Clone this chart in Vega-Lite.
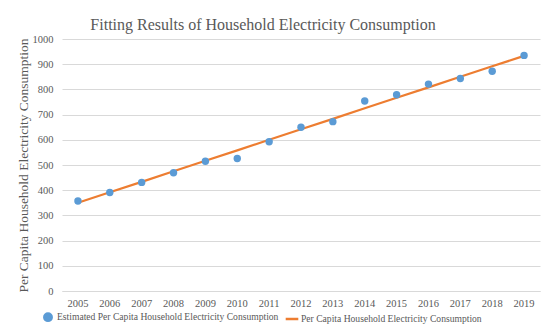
{
  "$schema": "https://vega.github.io/schema/vega-lite/v6.json",
  "width": 478,
  "height": 252,
  "autosize": {"type": "none"},
  "padding": {"left": 62, "top": 39, "right": 10, "bottom": 44},
  "background": "white",
  "title": {
    "text": "Fitting Results of Household Electricity Consumption",
    "font": "Liberation Serif",
    "fontSize": 16,
    "fontWeight": "normal",
    "color": "#595959",
    "anchor": "middle",
    "baseline": "alphabetic",
    "offset": -12,
    "dx": -38
  },
  "data": {
    "values": [
      {"year": "2005", "series": "Estimated Per Capita Household Electricity Consumption", "value": 357},
      {"year": "2006", "series": "Estimated Per Capita Household Electricity Consumption", "value": 391},
      {"year": "2007", "series": "Estimated Per Capita Household Electricity Consumption", "value": 431},
      {"year": "2008", "series": "Estimated Per Capita Household Electricity Consumption", "value": 469},
      {"year": "2009", "series": "Estimated Per Capita Household Electricity Consumption", "value": 515},
      {"year": "2010", "series": "Estimated Per Capita Household Electricity Consumption", "value": 526},
      {"year": "2011", "series": "Estimated Per Capita Household Electricity Consumption", "value": 592},
      {"year": "2012", "series": "Estimated Per Capita Household Electricity Consumption", "value": 650},
      {"year": "2013", "series": "Estimated Per Capita Household Electricity Consumption", "value": 672},
      {"year": "2014", "series": "Estimated Per Capita Household Electricity Consumption", "value": 754},
      {"year": "2015", "series": "Estimated Per Capita Household Electricity Consumption", "value": 779},
      {"year": "2016", "series": "Estimated Per Capita Household Electricity Consumption", "value": 821},
      {"year": "2017", "series": "Estimated Per Capita Household Electricity Consumption", "value": 843},
      {"year": "2018", "series": "Estimated Per Capita Household Electricity Consumption", "value": 872},
      {"year": "2019", "series": "Estimated Per Capita Household Electricity Consumption", "value": 935},
      {"year": "2005", "series": "Per Capita Household Electricity Consumption", "value": 350},
      {"year": "2006", "series": "Per Capita Household Electricity Consumption", "value": 392},
      {"year": "2007", "series": "Per Capita Household Electricity Consumption", "value": 433},
      {"year": "2008", "series": "Per Capita Household Electricity Consumption", "value": 475},
      {"year": "2009", "series": "Per Capita Household Electricity Consumption", "value": 517},
      {"year": "2010", "series": "Per Capita Household Electricity Consumption", "value": 558},
      {"year": "2011", "series": "Per Capita Household Electricity Consumption", "value": 600},
      {"year": "2012", "series": "Per Capita Household Electricity Consumption", "value": 642},
      {"year": "2013", "series": "Per Capita Household Electricity Consumption", "value": 683},
      {"year": "2014", "series": "Per Capita Household Electricity Consumption", "value": 725},
      {"year": "2015", "series": "Per Capita Household Electricity Consumption", "value": 767},
      {"year": "2016", "series": "Per Capita Household Electricity Consumption", "value": 808},
      {"year": "2017", "series": "Per Capita Household Electricity Consumption", "value": 850},
      {"year": "2018", "series": "Per Capita Household Electricity Consumption", "value": 892},
      {"year": "2019", "series": "Per Capita Household Electricity Consumption", "value": 933}
    ]
  },
  "encoding": {
    "x": {
      "field": "year",
      "type": "ordinal",
      "scale": {"type": "band", "paddingInner": 0, "paddingOuter": 0},
      "axis": {
        "title": null,
        "labelAngle": 0,
        "ticks": false,
        "grid": false,
        "domain": true,
        "domainColor": "#d9d9d9",
        "labelPadding": 7,
        "labelFont": "Liberation Serif",
        "labelFontSize": 10.5,
        "labelColor": "#595959"
      }
    },
    "y": {
      "field": "value",
      "type": "quantitative",
      "scale": {"domain": [0, 1000], "nice": false},
      "axis": {
        "values": [0, 100, 200, 300, 400, 500, 600, 700, 800, 900, 1000],
        "format": "d",
        "title": "Per Capita Household Electricity Consumption",
        "titleFont": "Liberation Serif",
        "titleFontSize": 13.5,
        "titleFontWeight": "normal",
        "titleColor": "#595959",
        "titleX": -39,
        "titleY": 126,
        "titleAngle": -90,
        "titleAlign": "center",
        "titleBaseline": "middle",
        "ticks": false,
        "domain": false,
        "grid": true,
        "gridColor": "#d9d9d9",
        "gridWidth": 1,
        "labelPadding": 9,
        "labelFont": "Liberation Serif",
        "labelFontSize": 10.5,
        "labelColor": "#595959"
      }
    },
    "color": {
      "field": "series",
      "type": "nominal",
      "scale": {
        "domain": ["Estimated Per Capita Household Electricity Consumption", "Per Capita Household Electricity Consumption"],
        "range": ["#5B9BD5", "#ED7D31"]
      },
      "legend": {
        "title": null,
        "orient": "none",
        "direction": "horizontal",
        "legendX": -19,
        "legendY": 273,
        "labelFont": "Liberation Serif",
        "labelFontSize": 9.6,
        "labelColor": "#595959",
        "labelLimit": 0,
        "columnPadding": 1,
        "symbolSize": 55,
        "symbolStrokeWidth": 2.5,
        "labelOffset": 4
      }
    }
  },
  "layer": [
    {
      "transform": [{"filter": "datum.series === 'Per Capita Household Electricity Consumption'"}],
      "mark": {"type": "line", "strokeWidth": 2.25}
    },
    {
      "transform": [{"filter": "datum.series === 'Estimated Per Capita Household Electricity Consumption'"}],
      "mark": {"type": "point", "filled": true, "size": 55, "opacity": 1},
      "encoding": {
        "shape": {
          "field": "series",
          "type": "nominal",
          "scale": {
            "domain": ["Estimated Per Capita Household Electricity Consumption", "Per Capita Household Electricity Consumption"],
            "range": ["circle", "M-1.7,0H1.7"]
          }
        }
      }
    }
  ],
  "config": {
    "view": {"stroke": null}
  }
}
